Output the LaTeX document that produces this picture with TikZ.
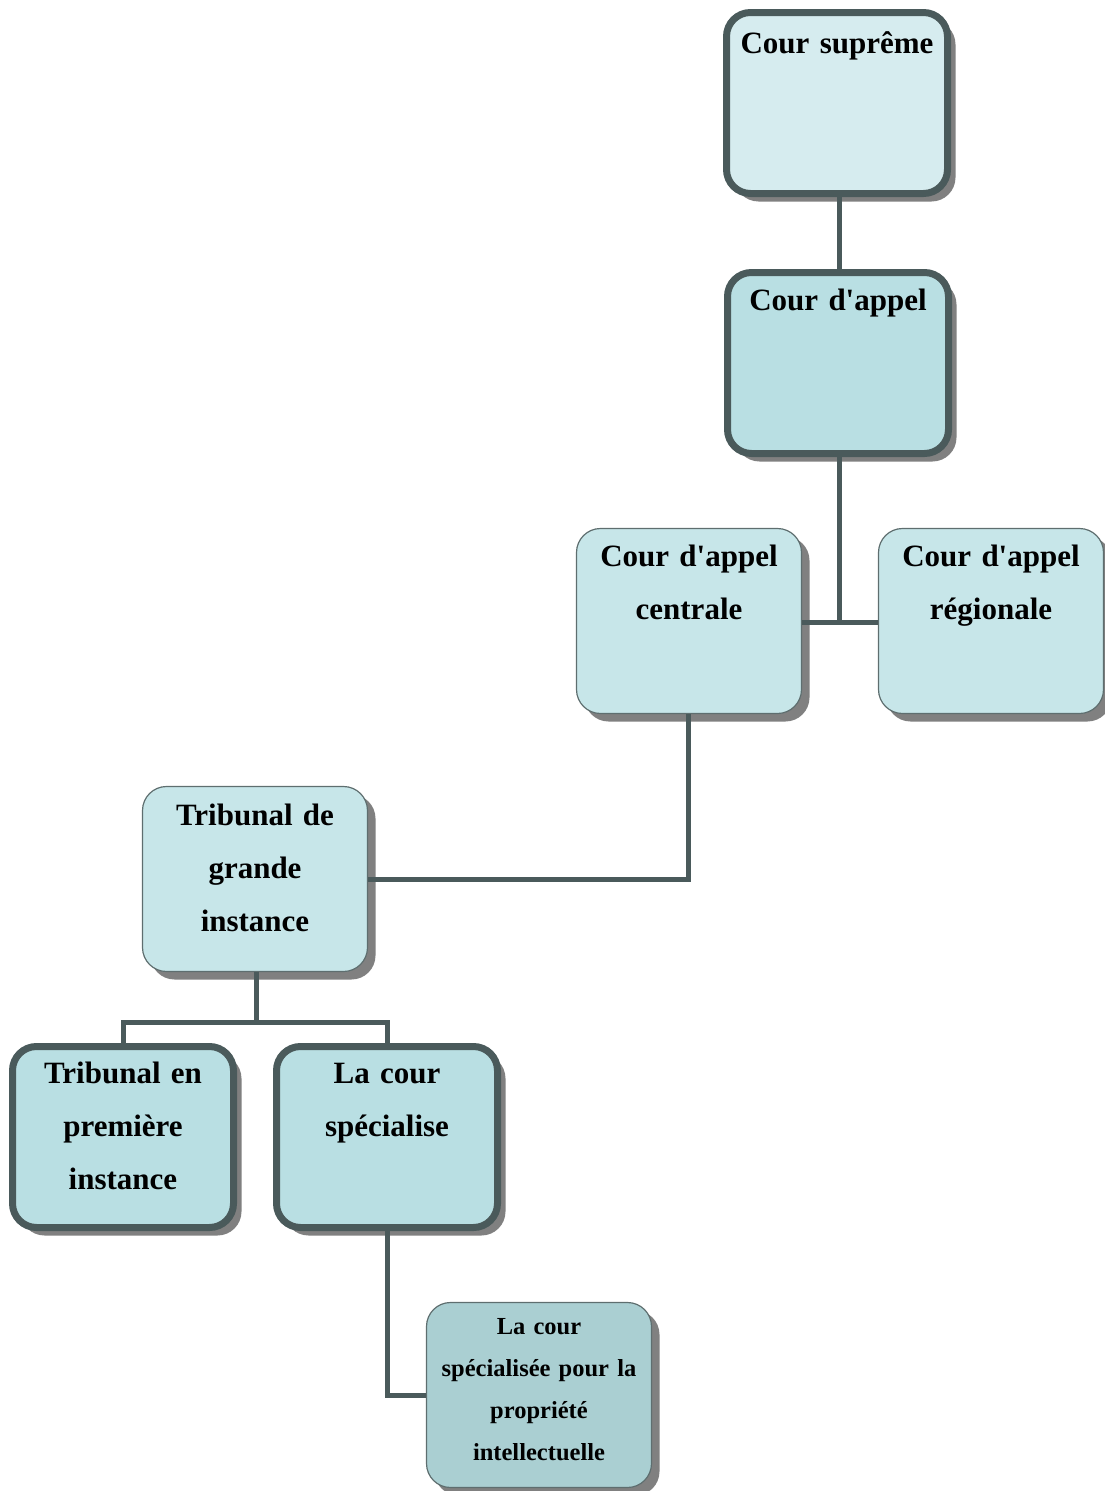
\documentclass[tikz,border=0pt]{standalone}
\usepackage{fontspec}
\setmainfont{Liberation Serif}
\definecolor{linec}{HTML}{4A5A5B}
\definecolor{thinc}{HTML}{5E6E6F}
\definecolor{shadowc}{HTML}{808080}
\definecolor{fillA}{HTML}{D6ECEF}
\definecolor{fillB}{HTML}{B9DFE3}
\definecolor{fillC}{HTML}{C7E6E9}
\definecolor{fillD}{HTML}{AACFD2}
\begin{document}
\begin{tikzpicture}[x=1pt,y=-1pt,
  boxbase/.style={rounded corners=24pt, inner sep=0pt,
    preaction={fill=shadowc, transform canvas={xshift=8pt,yshift=-8pt}}},
  thickbox/.style={boxbase, draw=linec, line width=7pt, minimum width=221pt, minimum height=181pt},
  thinbox/.style={boxbase, draw=thinc, line width=1.2pt, minimum width=225pt, minimum height=185pt},
  lbl/.style={anchor=base, text width=224pt, align=center, inner sep=0pt,
    font=\fontsize{31}{53}\selectfont\bfseries},
  smalllbl/.style={anchor=base, text width=224pt, align=center, inner sep=0pt,
    font=\fontsize{24.5}{42}\selectfont\bfseries},
  conn/.style={draw=linec, line width=5pt}
]
\useasboundingbox (0,0) rectangle (1104,1491);
% boxes
\node[thickbox, fill=fillA] (sup) at (837,103) {};
\node[thickbox, fill=fillB] (app) at (838,363) {};
\node[thinbox, fill=fillC] (cen) at (689,621) {};
\node[thinbox, fill=fillC] (reg) at (991,621) {};
\node[thinbox, fill=fillC] (tgi) at (255,879) {};
\node[thickbox, fill=fillB] (tpi) at (123,1137) {};
\node[thickbox, fill=fillB] (spe) at (387,1137) {};
\node[thinbox, fill=fillD] (pi) at (539,1395) {};
% labels
\node[lbl] (tsup) at ([yshift=-44pt]sup.north) {Cour suprême};
\node[lbl] (tapp) at ([yshift=-41pt]app.north) {Cour d\textquotesingle appel};
\node[lbl] (tcen) at ([yshift=-39pt]cen.north) {Cour d\textquotesingle appel\\centrale};
\node[lbl] (treg) at ([yshift=-39pt]reg.north) {Cour d\textquotesingle appel\\régionale};
\node[lbl] (ttgi) at ([yshift=-40pt]tgi.north) {Tribunal de\\grande\\instance};
\node[lbl] (ttpi) at ([yshift=-40pt]tpi.north) {Tribunal en\\première\\instance};
\node[lbl] (tspe) at ([yshift=-40pt]spe.north) {La cour\\spécialise};
\node[smalllbl] (tpi2) at ([yshift=-33pt]pi.north) {La cour\\spécialisée pour la\\propriété\\intellectuelle};
% connectors
\coordinate (j1) at (839,622);
\coordinate (j2) at (256,1022);
\draw[conn] (sup.south -| 839,0) -- (app.north -| 839,0);
\draw[conn] (app.south -| j1) -- (j1);
\draw[conn] (cen.east |- j1) -- (reg.west |- j1);
\draw[conn] (cen.south -| 688,0) |- (tgi.east);
\draw[conn] (tgi.south -| j2) -- (j2);
\draw[conn] (tpi.north) |- (spe.north |- j2) -- (spe.north);
\draw[conn] (spe.south) |- (pi.west);
\end{tikzpicture}
\end{document}
